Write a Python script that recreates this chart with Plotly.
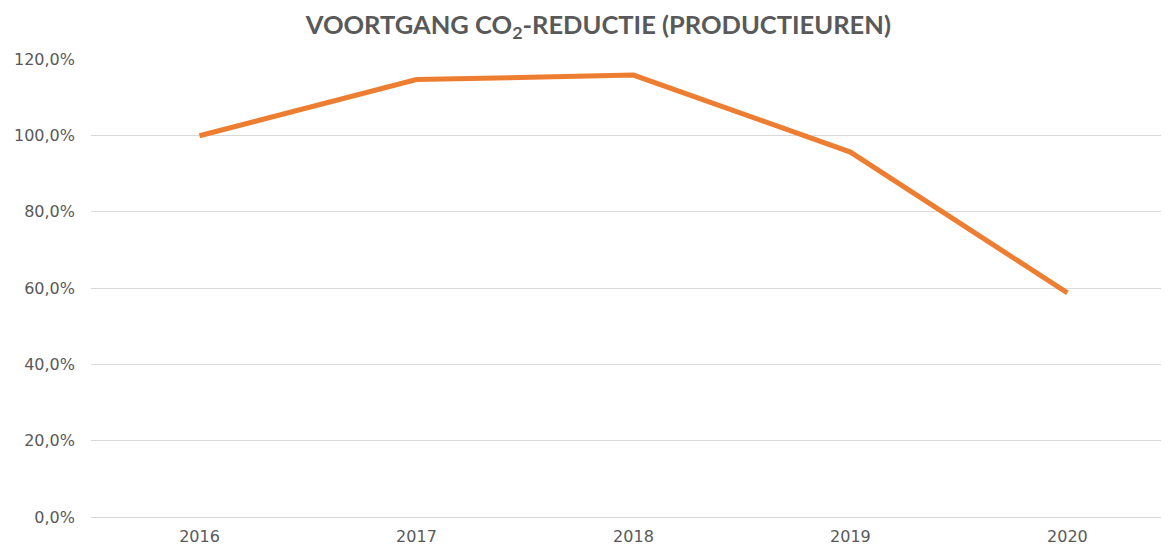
import plotly.graph_objects as go

years = ["2016", "2017", "2018", "2019", "2020"]
values = [0.999, 1.146, 1.158, 0.956, 0.587]
y_ticks = [0, 0.2, 0.4, 0.6, 0.8, 1.0, 1.2]
y_tick_labels = ["0,0%", "20,0%", "40,0%", "60,0%", "80,0%", "100,0%", "120,0%"]

fig = go.Figure()
fig.add_trace(go.Scatter(
    x=years, y=values, mode="lines",
    line=dict(color="#ED7D31", width=5, shape="linear"),
    hoverinfo="skip",
))

fig.update_layout(
    width=1169, height=547,
    paper_bgcolor="white", plot_bgcolor="white",
    margin=dict(l=83, r=0, t=51, b=38),
    showlegend=False,
    title=dict(
        text="VOORTGANG CO<sub>2</sub>-REDUCTIE (PRODUCTIEUREN)",
        x=0.505, xanchor="center", y=0.969, yanchor="middle",
        font=dict(family="Lato", size=25.5, color="#595959", weight="bold"),
    ),
    xaxis=dict(
        type="category", range=[-0.5, 4.505],
        showgrid=False, showline=False, zeroline=False, ticks="",
        ticklabelstandoff=8,
        tickfont=dict(family="DejaVu Sans", size=16, color="#595959"),
    ),
    yaxis=dict(
        range=[0, 1.2], tickvals=y_ticks, ticktext=y_tick_labels,
        showgrid=True, gridcolor="#D9D9D9", gridwidth=1,
        zeroline=True, zerolinecolor="#D9D9D9", zerolinewidth=1,
        showline=False, ticks="", ticklabelstandoff=15,
        tickfont=dict(family="DejaVu Sans", size=16, color="#595959"),
    ),
)

fig.write_html("out.html")
